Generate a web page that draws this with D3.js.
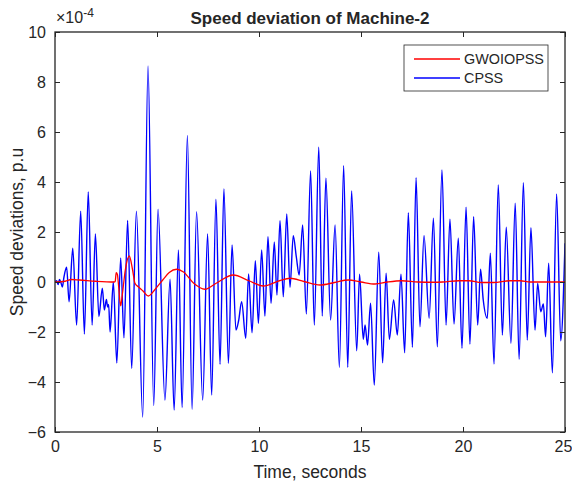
<!DOCTYPE html>
<html>
<head>
<meta charset="utf-8">
<script src="https://cdn.jsdelivr.net/npm/d3@7"></script>
<style>
  body { margin: 0; background: #fff; }
  text { font-family: Arial, "Liberation Sans", sans-serif; fill: #262626; }
</style>
</head>
<body>
<div class="chart"></div>
<script>
// CPSS (blue), time in s, value in 1e-4 p.u
var cpssT = [0, 0.08, 0.15, 0.22, 0.3, 0.36, 0.44, 0.57, 0.69, 0.87, 1.06, 1.26, 1.44, 1.63, 1.82, 1.98,
  2.15, 2.32, 2.42, 2.52, 2.58, 2.63, 2.7, 2.86, 3.03, 3.22, 3.38, 3.56, 3.76, 3.99, 4.3, 4.56, 4.84,
  5.05, 5.39, 5.64, 5.84, 6.05, 6.23, 6.49, 6.72, 6.94, 7.24, 7.48, 7.68, 7.89, 8.09, 8.28, 8.5, 8.68,
  8.87, 9.0, 9.15, 9.35, 9.49, 9.66, 9.82, 9.97, 10.13, 10.29, 10.44, 10.59, 10.75, 10.88, 11.03, 11.19,
  11.36, 11.52, 11.68, 11.83, 11.97, 12.14, 12.32, 12.53, 12.71, 12.93, 13.1, 13.28, 13.51, 13.73,
  13.94, 14.15, 14.35, 14.54, 14.79, 14.93, 15.11, 15.2, 15.32, 15.47, 15.65, 15.87, 16.06, 16.23,
  16.39, 16.6, 16.78, 16.96, 17.14, 17.32, 17.52, 17.7, 17.89, 18.09, 18.34, 18.55, 18.74, 18.97,
  19.17, 19.36, 19.56, 19.77, 19.95, 20.15, 20.34, 20.52, 20.72, 20.86, 20.99, 21.19, 21.34, 21.52,
  21.73, 21.93, 22.12, 22.35, 22.56, 22.75, 22.96, 23.15, 23.33, 23.53, 23.66, 23.81, 23.94, 24.05,
  24.2, 24.38, 24.59, 24.79, 25];
var cpssV = [0, 0.05, -0.1, 0.1, -0.05, -0.2, 0.2, 0.59, -0.79, 1.35, -1.72, 2.83, -2.08, 3.6, -1.72, 1.92,
  -1.38, -0.25, -1.12, -0.7, -1.0, -0.9, -2.0, 0.0, -3.24, 0.96, -2.23, 2.46, -3.45, 2.83, -5.4, 8.64, -4.94,
  2.91, -4.72, 0.11, -5.12, 1.28, -5.02, 5.86, -5.09, 2.81, -4.72, 1.92, -4.52, 3.31, -3.29, 3.72, -3.25, 1.48,
  -1.92, -1.55, -0.79, -2.25, 0.32, -2.03, 0.85, -1.65, 1.28, -1.36, 1.81, -0.85, 1.6, -0.52, 2.45, -0.59,
  2.72, -0.21, 1.85, 1.0, 0.28, 2.28, -1.28, 4.44, -1.72, 5.39, -1.36, 4.15, -1.52, 2.28,
  -3.41, 4.65, -3.41, 3.64, -2.75, 0.31, -2.29, -1.72, -2.52, -0.85, -4.12, 1.19, -3.23, 0.35,
  -2.29, -0.72, -2.12, 0.31, -2.83, 2.77, -2.61, 4.17, -1.79, 1.85, -1.45, 2.55, -2.59, 4.48,
  -1.72, 2.51, -1.68, 1.75, -2.65, 2.99, -2.48, 2.61, -1.72, 0.51, -0.7, -1.45, 1.15, -3.28,
  3.88, -2.12, 2.19, -2.45, 3.15, -3.09, 3.97, -2.32, 2.17, -1.92, -0.05, -1.19, -0.88, -2.19,
  0.75, -3.63, 3.52, -2.35, 1.55];

// GWOIOPSS (red)
var gwoT = [0, 0.5, 0.8, 1.2, 2.0, 2.9, 2.95, 3.0, 3.06, 3.1, 3.22, 3.3, 3.45, 3.64, 3.8, 3.92, 4.1, 4.3,
  4.57, 4.9, 5.3, 5.6, 5.96, 6.3, 6.8, 7.35, 7.9, 8.74, 9.5, 10.21, 11.0, 11.52, 12.2, 12.99, 13.7,
  14.38, 15.0, 15.69, 16.3, 17.0, 17.8, 18.5, 19.0, 19.8, 20.3, 20.9, 21.5, 22.3, 22.8, 23.3, 25];
var gwoV = [0, 0.03, 0.1, 0.08, 0.03, 0.0, 0.02, 0.37, 0.3, 0.0, -0.95, -0.5, 0.5, 1.04, 0.5, -0.05, -0.2, -0.35,
  -0.56, -0.3, 0.1, 0.38, 0.51, 0.4, -0.05, -0.29, -0.05, 0.28, 0.05, -0.16, 0.05, 0.15, 0.02, -0.12, -0.02,
  0.08, 0.0, -0.08, 0.0, 0.05, 0.0, -0.01, 0.0, 0.05, 0.05, -0.02, -0.02, 0.05, 0.05, 0.0, 0.0];

var xTicks = [0, 5, 10, 15, 20, 25];
var yTicks = [-6, -4, -2, 0, 2, 4, 6, 8, 10];

var svgWidth = 572;
var svgHeight = 483;
var margin = { top: 32, right: 7, bottom: 51, left: 55 };
var width = svgWidth - margin.left - margin.right;
var height = svgHeight - margin.top - margin.bottom;

var svg = d3.select(".chart")
  .append("svg")
  .attr("width", svgWidth)
  .attr("height", svgHeight);

var chart = svg.append("g")
  .attr("transform", "translate(" + margin.left + "," + margin.top + ")");

var x = d3.scaleLinear().domain([0, 25]).range([0, width]);
var y = d3.scaleLinear().domain([-6, 10]).range([height, 0]);

var cpss = cpssT.map(function(t, i) { return { t: t, v: cpssV[i] }; });
var gwo = gwoT.map(function(t, i) { return { t: t, v: gwoV[i] }; });

var line = d3.line()
  .x(function(d) { return x(d.t); })
  .y(function(d) { return y(d.v); })
  .curve(d3.curveMonotoneX);

chart.append("defs").append("clipPath").attr("id", "clip")
  .append("rect").attr("width", width).attr("height", height);

var plot = chart.append("g").attr("clip-path", "url(#clip)");

plot.append("path")
  .datum(cpss)
  .attr("fill", "none")
  .attr("stroke", "#0000ff")
  .attr("stroke-width", 1.4)
  .attr("d", line);

plot.append("path")
  .datum(gwo)
  .attr("fill", "none")
  .attr("stroke", "#ff0000")
  .attr("stroke-width", 1.3)
  .attr("d", line);

// axes, MATLAB style: ticks inside, box on
function styleAxis(g) {
  g.select(".domain").remove();
  g.selectAll("line").attr("stroke", "#262626");
  g.selectAll("text").style("font-size", "16px").attr("fill", "#262626");
}

var xAxisG = chart.append("g")
  .attr("transform", "translate(0," + height + ")")
  .call(d3.axisBottom(x).tickValues(xTicks).tickSizeInner(-5).tickSizeOuter(0).tickPadding(9))
  .call(styleAxis);
// keep the last label inside the page
xAxisG.selectAll(".tick text").filter(function(d) { return d === 25; }).attr("dx", -2);

chart.append("g")
  .call(d3.axisTop(x).tickValues(xTicks).tickSizeInner(-5).tickSizeOuter(0).tickFormat(""))
  .call(styleAxis);

chart.append("g")
  .call(d3.axisLeft(y).tickValues(yTicks).tickSizeInner(-5).tickSizeOuter(0).tickPadding(9))
  .call(styleAxis);

chart.append("g")
  .attr("transform", "translate(" + width + ",0)")
  .call(d3.axisRight(y).tickValues(yTicks).tickSizeInner(-5).tickSizeOuter(0).tickFormat(""))
  .call(styleAxis);

chart.append("rect")
  .attr("width", width)
  .attr("height", height)
  .attr("fill", "none")
  .attr("stroke", "#262626")
  .attr("stroke-width", 1.3);

// exponent label
var expo = chart.append("text")
  .attr("x", 1)
  .attr("y", -9)
  .style("font-size", "16px");
expo.append("tspan").text("\u00d710");
expo.append("tspan").attr("dy", -6).style("font-size", "12px").text("-4");

// title
svg.append("text")
  .attr("x", margin.left + width / 2)
  .attr("y", 24)
  .attr("text-anchor", "middle")
  .style("font-size", "17px")
  .style("font-weight", "bold")
  .attr("fill", "#000")
  .text("Speed deviation of Machine-2");

// axis labels
svg.append("text")
  .attr("x", margin.left + width / 2)
  .attr("y", 478)
  .attr("text-anchor", "middle")
  .style("font-size", "17.5px")
  .text("Time, seconds");

svg.append("text")
  .attr("transform", "translate(23," + (margin.top + height / 2) + ") rotate(-90)")
  .attr("text-anchor", "middle")
  .style("font-size", "17.5px")
  .text("Speed deviations, p.u");

// legend
var legend = svg.append("g").attr("transform", "translate(404,45)");
legend.append("rect")
  .attr("width", 144)
  .attr("height", 46)
  .attr("fill", "#fff")
  .attr("stroke", "#262626")
  .attr("stroke-width", 0.8);

var legendItems = [{ name: "GWOIOPSS", color: "#ff0000" }, { name: "CPSS", color: "#0000ff" }];
legendItems.forEach(function(d, i) {
  var yy = 14 + i * 19;
  legend.append("line")
    .attr("x1", 10).attr("x2", 56)
    .attr("y1", yy).attr("y2", yy)
    .attr("stroke", d.color)
    .attr("stroke-width", 1.3);
  legend.append("text")
    .attr("x", 60)
    .attr("y", yy + 5)
    .style("font-size", "14.4px")
    .attr("fill", "#000")
    .text(d.name);
});
</script>
</body>
</html>
